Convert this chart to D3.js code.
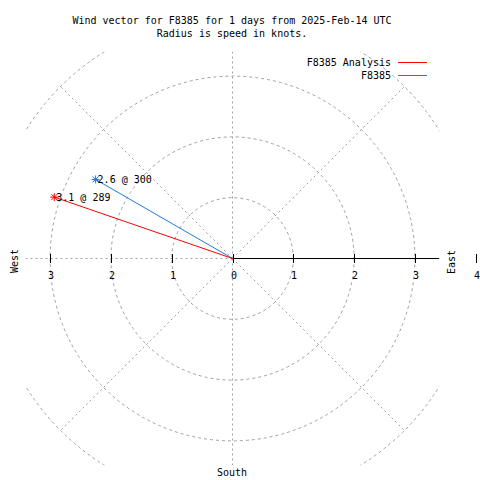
<!DOCTYPE html>
<html><head><meta charset="utf-8">
<script src="https://cdn.jsdelivr.net/npm/d3@7"></script>
<style>body{margin:0;background:#fff}svg{display:block}text{font-family:"DejaVu Sans Mono",monospace;font-size:10px;fill:#000}</style>
</head><body><svg id="c" width="480" height="480"></svg>
<script>
const titleLines = ["Wind vector for F8385 for 1 days from 2025-Feb-14 UTC", "Radius is speed in knots."];
const seriesNames = ["F8385 Analysis", "F8385"];
const seriesColors = ["#ff0000", "#1a7ae6"];
const speeds = [3.1, 2.6];
const directions = [289, 300];
const ringValues = [1, 2, 3, 4];
const spokeAngles = [0, 45, 90, 135, 180, 225, 270, 315];
const tickValues = [-3, -2, -1, 0, 1, 2, 3, 4];
const tickLabels = ["3", "2", "1", "0", "1", "2", "3", "4"];
const compass = ["West", "East", "South"];

const svg = d3.select("#c");
const cx = 232.5, cy = 258.5;
const r = d3.scaleLinear().domain([0, 4]).range([0, 243.2]);
const x = d3.scaleLinear().domain([-3.4, 3.4]).range([cx - r(3.4), cx + r(3.4)]);
const y = d3.scaleLinear().domain([-3.4, 3.4]).range([cy + r(3.4), cy - r(3.4)]);

svg.append("defs").append("clipPath").attr("id", "clip").append("rect")
  .attr("x", x(-3.4)).attr("y", y(3.4)).attr("width", x(3.4) - x(-3.4)).attr("height", y(-3.4) - y(3.4));

// title
svg.selectAll("text.title").data(titleLines).join("text").attr("class", "title")
  .attr("x", 232).attr("y", (d, i) => 24 + i * 13).attr("text-anchor", "middle").text(d => d);

const grid = svg.append("g").attr("clip-path", "url(#clip)");
grid.selectAll("circle").data(ringValues).join("circle")
  .attr("cx", x(0)).attr("cy", y(0)).attr("r", d => r(d))
  .attr("fill", "none").attr("stroke", "#a0a0a0").attr("stroke-dasharray", "3,3");
grid.selectAll("line").data(spokeAngles).join("line")
  .attr("x1", x(0)).attr("y1", y(0))
  .attr("x2", d => x(4 * Math.sin(d * Math.PI / 180)))
  .attr("y2", d => y(4 * Math.cos(d * Math.PI / 180)))
  .attr("stroke", "#a0a0a0").attr("stroke-dasharray", "2,3");

// east axis solid
svg.append("line").attr("x1", x(0)).attr("x2", x(3.4)).attr("y1", y(0)).attr("y2", y(0))
  .attr("stroke", "#000");
// ticks
svg.selectAll("line.tick").data(tickValues).join("line").attr("class", "tick")
  .attr("x1", d => Math.round(x(d)) + 0.5).attr("x2", d => Math.round(x(d)) + 0.5)
  .attr("y1", y(0) - 4.5).attr("y2", y(0) + 4.5).attr("stroke", "#000");
svg.selectAll("text.tl").data(tickValues).join("text").attr("class", "tl")
  .attr("x", d => Math.round(x(d)) + 1).attr("y", y(0) + 20).attr("text-anchor", "middle")
  .text((d, i) => tickLabels[i]);

// compass labels
svg.append("text").attr("transform", "translate(18,261) rotate(-90)").attr("text-anchor", "middle").text(compass[0]);
svg.append("text").attr("transform", "translate(455,262) rotate(-90)").attr("text-anchor", "middle").text(compass[1]);
svg.append("text").attr("x", 232).attr("y", 476).attr("text-anchor", "middle").text(compass[2]);

// vectors
const pts = speeds.map((s, i) => ({
  s, d: directions[i], c: seriesColors[i],
  px: x(s * Math.sin(directions[i] * Math.PI / 180)),
  py: y(s * Math.cos(directions[i] * Math.PI / 180))
}));
const order = [1, 0];
order.forEach(i => {
  const p = pts[i];
  svg.append("line").attr("x1", x(0)).attr("y1", y(0)).attr("x2", p.px).attr("y2", p.py)
    .attr("stroke", p.c);
  const g = svg.append("g").attr("transform", `translate(${p.px},${p.py})`);
  [[-4, 0, 4, 0], [0, -4, 0, 4], [-3, -3, 3, 3], [-3, 3, 3, -3]].forEach(l => {
    g.append("line").attr("x1", l[0]).attr("y1", l[1]).attr("x2", l[2]).attr("y2", l[3]).attr("stroke", p.c);
  });
  svg.append("text").attr("x", p.px + 2).attr("y", p.py + 4).text(`${p.s} @ ${p.d}`);
});

// legend
seriesNames.forEach((n, i) => {
  svg.append("text").attr("x", 391).attr("y", 66 + i * 13).attr("text-anchor", "end").text(n);
  svg.append("line").attr("x1", 398).attr("x2", 427).attr("y1", 62.5 + i * 13).attr("y2", 62.5 + i * 13)
    .attr("stroke", seriesColors[i]);
});
</script></body></html>
